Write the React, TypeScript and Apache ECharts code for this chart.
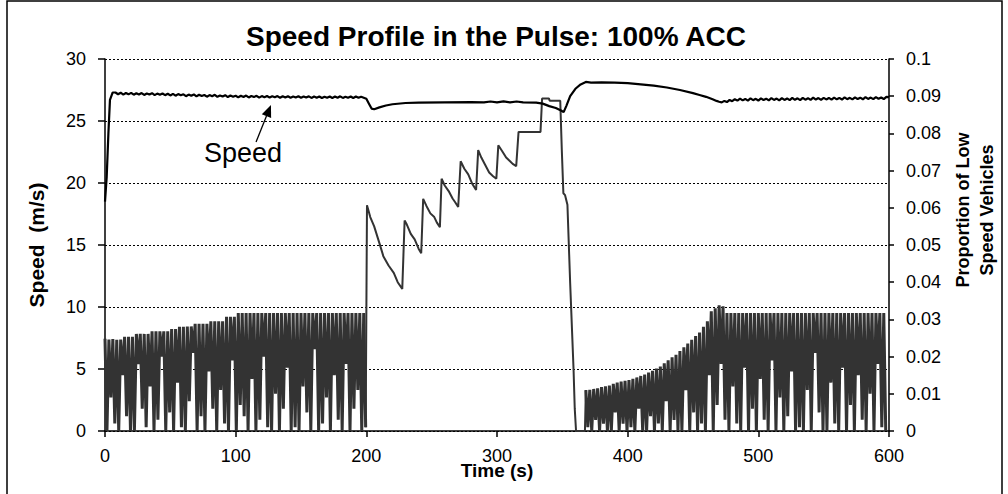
import React, { useEffect, useRef } from "react";
import * as echarts from "echarts";

// ---------- data ----------
const xTicks = { min: 0, max: 600, interval: 100 };
const speedTicks = { min: 0, max: 30, interval: 5 };
const propTicks = { min: 0, max: 0.1, interval: 0.01 };

// Speed (m/s): start-up ramp [t, v]
const speedHead: [number, number][] = [
  [0, 18.5], [1.3, 20.5], [2.6, 24.0], [3.8, 26.7], [5.9, 27.3],
];
// Speed sampled every 2 s from t = 8 to 198
const speedAStart = 8;
const speedAStep = 2;
const speedA = [
  27.30, 27.16, 27.28, 27.13, 27.26, 27.15, 27.27, 27.12, 27.24, 27.14, 27.25, 27.10, 27.22, 27.13, 27.24, 27.09, 27.21, 27.12, 27.22, 27.08, 27.20,
  27.06, 27.19, 27.04, 27.17, 27.07, 27.15, 27.00, 27.13, 27.03, 27.14, 26.98, 27.12, 27.02, 27.10, 26.96, 27.09, 27.00, 27.11, 26.95, 27.06, 26.97, 27.08, 26.93, 27.05, 26.96,
  27.04, 26.91, 27.03, 26.94, 27.05, 26.90, 27.02, 26.93, 27.03, 26.88, 27.01, 26.92, 27.02, 26.89, 27.00, 26.91, 27.01, 26.87, 26.99, 26.90, 27.00, 26.88, 26.98, 26.90, 26.99,
  26.87, 26.98, 26.89, 26.99, 26.86, 26.97, 26.88, 26.98, 26.85, 26.96, 26.88, 26.98, 26.86, 26.97, 26.87, 26.99, 26.86, 26.96, 26.88, 26.98, 26.85, 26.97, 26.87, 26.96, 26.88,
];
// Speed during and after the pulse [t, v]
const speedMid: [number, number][] = [
  [200, 26.8], [202, 26.4], [204, 26.0], [206, 25.95], [210, 26.1], [215, 26.25], [220, 26.35], [230, 26.45],
  [240, 26.48], [260, 26.5], [280, 26.52], [290, 26.5], [295, 26.57], [300, 26.5], [305, 26.58], [310, 26.5],
  [315, 26.57], [320, 26.5], [330, 26.48], [335, 26.4], [340, 26.2], [345, 26.05], [349, 25.85], [351, 25.72],
  [353, 26.2], [356, 27.0], [360, 27.6], [364, 27.95], [368, 28.15], [372, 28.1], [380, 28.12], [390, 28.1],
  [400, 28.05], [410, 27.95], [420, 27.85], [430, 27.7], [440, 27.5], [450, 27.25], [455, 27.1], [460, 26.95],
  [465, 26.75], [468, 26.62], [470, 26.55],
];
// Speed sampled every 2 s from t = 472 to 600
const speedCStart = 472;
const speedCStep = 2;
const speedC = [
  26.50, 26.62, 26.53, 26.70, 26.60, 26.76, 26.64, 26.80, 26.66, 26.78, 26.64, 26.82, 26.68, 26.79, 26.65, 26.83, 26.69, 26.80, 26.66, 26.84, 26.70, 26.81, 26.67, 26.85, 26.70,
  26.82, 26.68, 26.86, 26.71, 26.83, 26.69, 26.87, 26.72, 26.84, 26.70, 26.88, 26.73, 26.85, 26.71, 26.87, 26.74, 26.86, 26.72, 26.89, 26.75, 26.86, 26.73, 26.90, 26.76, 26.87,
  26.74, 26.91, 26.77, 26.88, 26.75, 26.92, 26.78, 26.89, 26.76, 26.93, 26.79, 26.90, 26.77, 26.95, 26.92,
];

// Proportion of low speed vehicles (units of 0.0001)
// Before the pulse: peaks every 3 s from t = 0, troughs 1.5 s later
const propAStart = 0;
const propStep = 3;
const peaksA = [
  248, 246, 247, 245, 246, 253, 253, 253, 261, 261, 261, 261, 268, 268, 268, 268, 268, 274, 274, 280,
  280, 281, 281, 288, 288, 288, 288, 295, 295, 295, 295, 307, 307, 307,
  317, 317, 317, 317, 317, 317, 317, 317, 317, 317, 317, 317, 317, 317, 317, 317, 317,
  317, 317, 317, 317, 317, 317, 317, 317, 317, 317, 317, 317, 317, 317, 317, 317,
];
const troughsA = [
  0, 90, 20, 0, 150, 40, 0, 0, 180, 60, 10, 120, 0, 30, 200, 0, 50, 0, 130, 10,
  0, 80, 210, 0, 40, 0, 160, 60, 0, 110, 20, 0, 190, 0, 70, 40, 0, 140, 0, 30,
  200, 10, 0, 100, 0, 60, 170, 0, 10, 0, 120, 50, 0, 220, 0, 20, 90, 0, 150, 30,
  0, 180, 0, 60, 110, 0, 10,
];
// During the pulse [t, proportion]
const pulseT = [
  199.5, 200.5, 203, 206, 210, 213, 217, 221, 224, 227.5, 229.3, 231, 234, 237, 240, 242, 243.5, 246, 249, 252, 254,
  256.3, 257.6, 260, 263, 266, 268, 270.3, 272.2, 275, 278, 281, 284, 285.6, 288, 291, 294, 297, 299.5, 301, 304,
  307, 310, 312, 314.7, 316.5, 333.3, 334.5, 339.7, 340.3, 348.4, 349.6, 350.8, 352.1, 353.9, 356, 357.7, 358.6,
  359.5, 360.5, 367.3, 368,
];
const pulseV = [
  0.001, 0.0607, 0.0575, 0.055, 0.0505, 0.047, 0.0445, 0.0425, 0.040, 0.0382, 0.0566, 0.0555, 0.053, 0.0515, 0.049, 0.0478, 0.0624, 0.0605, 0.0585, 0.0575, 0.056,
  0.0548, 0.0678, 0.066, 0.0645, 0.0625, 0.0615, 0.0602, 0.0725, 0.0705, 0.069, 0.0665, 0.0648, 0.0755, 0.0735, 0.0715, 0.0695, 0.0685, 0.0678, 0.0768, 0.0752,
  0.0735, 0.0725, 0.0718, 0.0712, 0.0804, 0.0804, 0.0894, 0.0894, 0.0888, 0.0888, 0.0755, 0.0639, 0.0634, 0.0608, 0.0397, 0.0245, 0.0164,
  0.006, 0, 0, 0.011,
];
// After the pulse: peaks every 3 s from t = 368, troughs 1.5 s later
const propCStart = 368;
const peaksC = [
  110, 111, 113, 115, 118, 120, 122, 127, 130, 133, 135, 137, 140, 144, 148, 152, 157, 162, 168, 173,
  182, 190, 198, 205, 215, 225, 235, 245, 255, 265, 280, 295, 322, 330, 338, 335,
  317, 317, 317, 317, 317, 317, 317, 317, 317, 317, 317, 317, 317, 317, 317, 317, 317, 317, 317, 317, 317,
  317, 317, 317, 317, 317, 317, 317, 317, 317, 317, 317, 317, 317, 317, 317, 317, 317, 317, 317, 317,
];
const troughsC = [
  10, 0, 30, 0, 20, 0, 0, 50, 0, 20, 0, 10, 0, 60, 0, 0, 40, 0, 20, 0,
  80, 0, 30, 0, 0, 110, 0, 50, 0, 20, 0, 150, 0, 70, 180, 30,
  0, 120, 20, 0, 170, 0, 60, 0, 140, 30, 0, 190, 0, 90, 0, 40, 160, 0, 10, 0,
  110, 0, 210, 50, 0, 0, 130, 20, 0, 170, 0, 70, 0, 150, 30, 0, 100, 0, 180, 10, 0, 110,
];

// annotation anchors in data coordinates (time, speed)
const labelAt = [105.6, 22.4];
const arrowTail = [115.6, 23.3];
const arrowTip = [127, 26.3];

// ---------- build series ----------
function buildSpeed(): [number, number][] {
  const out: [number, number][] = [...speedHead];
  speedA.forEach((v, i) => out.push([speedAStart + i * speedAStep, v]));
  speedMid.forEach((p) => out.push(p));
  speedC.forEach((v, i) => out.push([speedCStart + i * speedCStep, v]));
  return out;
}
function buildOsc(start: number, peaks: number[], troughs: number[]): [number, number][] {
  const out: [number, number][] = [];
  peaks.forEach((p, i) => {
    out.push([start + i * propStep, p / 1e4]);
    out.push([start + i * propStep + propStep / 2, troughs[i] / 1e4]);
  });
  return out;
}
function buildPulse(): [number, number][] {
  return pulseT.map((t, i) => [t, pulseV[i]] as [number, number]);
}

const FONT = "Liberation Sans, Arial, sans-serif";
const PROP_COLOR = "#333333";

export default function App() {
  const ref = useRef<HTMLDivElement>(null);
  useEffect(() => {
    if (!ref.current) return;
    const chart = echarts.init(ref.current, null, { renderer: "svg" });
    const propLine = (name: string, data: [number, number][], width: number) => ({
      name,
      type: "line",
      yAxisIndex: 1,
      data,
      showSymbol: false,
      symbol: "none",
      lineStyle: { color: PROP_COLOR, width, join: "bevel" },
      z: 2,
    });
    chart.setOption({
      animation: false,
      backgroundColor: "#ffffff",
      textStyle: { fontFamily: FONT },
      title: {
        text: "Speed Profile in the Pulse: 100% ACC",
        left: 241,
        top: 17,
        textStyle: { fontSize: 28, fontWeight: "bold", color: "#000", fontFamily: FONT },
      },
      grid: { left: 105, right: 119, top: 59, bottom: 63, containLabel: false, outerBoundsMode: "none" },
      xAxis: {
        type: "value",
        min: xTicks.min,
        max: xTicks.max,
        interval: xTicks.interval,
        name: "Time (s)",
        nameLocation: "middle",
        nameGap: 30,
        nameMoveOverlap: false,
        nameTextStyle: { fontSize: 19, fontWeight: "bold", color: "#000", fontFamily: FONT },
        axisLine: { show: true, lineStyle: { color: "#000", width: 1.5 } },
        axisTick: { show: true, length: 6, lineStyle: { color: "#000", width: 1.5 } },
        axisLabel: { fontSize: 18, color: "#000", margin: 16, fontFamily: FONT },
        splitLine: { show: false },
      },
      yAxis: [
        {
          type: "value",
          min: speedTicks.min,
          max: speedTicks.max,
          interval: speedTicks.interval,
          name: "Speed  (m/s)",
          nameLocation: "middle",
          nameRotate: 90,
          nameGap: 58,
          nameMoveOverlap: false,
          nameTextStyle: { fontSize: 21, fontWeight: "bold", color: "#000", fontFamily: FONT },
          axisLine: { show: true, lineStyle: { color: "#000", width: 1.5 } },
          axisTick: { show: true, length: 7, lineStyle: { color: "#000", width: 1.5 } },
          axisLabel: { fontSize: 18, color: "#000", margin: 19, fontFamily: FONT },
          splitLine: { show: true, lineStyle: { color: "#000", width: 1, type: [2, 2] } },
        },
        {
          type: "value",
          position: "right",
          min: propTicks.min,
          max: propTicks.max,
          interval: propTicks.interval,
          name: "Proportion of Low\nSpeed Vehicles",
          nameLocation: "middle",
          nameRotate: 90,
          nameGap: 62,
          nameMoveOverlap: false,
          nameTextStyle: { fontSize: 18, fontWeight: "bold", color: "#000", fontFamily: FONT, lineHeight: 24, padding: [0, 0, 0, 70] },
          axisLine: { show: true, lineStyle: { color: "#000", width: 1.5 } },
          axisTick: { show: true, length: 5, lineStyle: { color: "#000", width: 1.5 } },
          axisLabel: {
            fontSize: 18,
            color: "#000",
            margin: 17,
            fontFamily: FONT,
            formatter: (v: number) => String(+v.toFixed(2)),
          },
          splitLine: { show: false },
        },
      ],
      series: [
        propLine("Proportion", buildOsc(propAStart, peaksA, troughsA), 3),
        propLine("Proportion pulse", buildPulse(), 2),
        propLine("Proportion after", buildOsc(propCStart, peaksC, troughsC), 3),
        {
          name: "Speed",
          type: "line",
          yAxisIndex: 0,
          data: buildSpeed(),
          showSymbol: false,
          symbol: "none",
          lineStyle: { color: "#000000", width: 2.2 },
          z: 3,
        },
      ],
    });

    const px = (p: number[]) => chart.convertToPixel({ xAxisIndex: 0, yAxisIndex: 0 }, p) as number[];
    const tip = px(arrowTip);
    const tail = px(arrowTail);
    const lab = px(labelAt);
    const dx = tip[0] - tail[0];
    const dy = tip[1] - tail[1];
    const len = Math.hypot(dx, dy);
    const ux = dx / len;
    const uy = dy / len;
    const headL = 12;
    const headW = 5;
    const bx = tip[0] - ux * headL;
    const by = tip[1] - uy * headL;
    chart.setOption({
      graphic: [
        {
          type: "rect",
          shape: { x: 7, y: 1, width: 995, height: 520 },
          style: { fill: "none", stroke: "#000", lineWidth: 1.5 },
          silent: true,
          z: 100,
        },
        {
          type: "text",
          x: lab[0],
          y: lab[1],
          style: {
            text: "Speed",
            fontSize: 27,
            fontFamily: FONT,
            fill: "#000",
            align: "center",
            verticalAlign: "middle",
          },
          z: 100,
        },
        {
          type: "line",
          shape: { x1: tail[0], y1: tail[1], x2: bx, y2: by },
          style: { stroke: "#000", lineWidth: 1.3 },
          z: 100,
        },
        {
          type: "polygon",
          shape: {
            points: [
              [tip[0], tip[1]],
              [bx - uy * headW, by + ux * headW],
              [bx + uy * headW, by - ux * headW],
            ],
          },
          style: { fill: "#000" },
          z: 100,
        },
      ],
    });

    return () => chart.dispose();
  }, []);
  return (
    <div
      ref={ref}
      style={{ position: "fixed", left: 0, top: 0, width: 1008, height: 494, background: "#fff" }}
    />
  );
}
